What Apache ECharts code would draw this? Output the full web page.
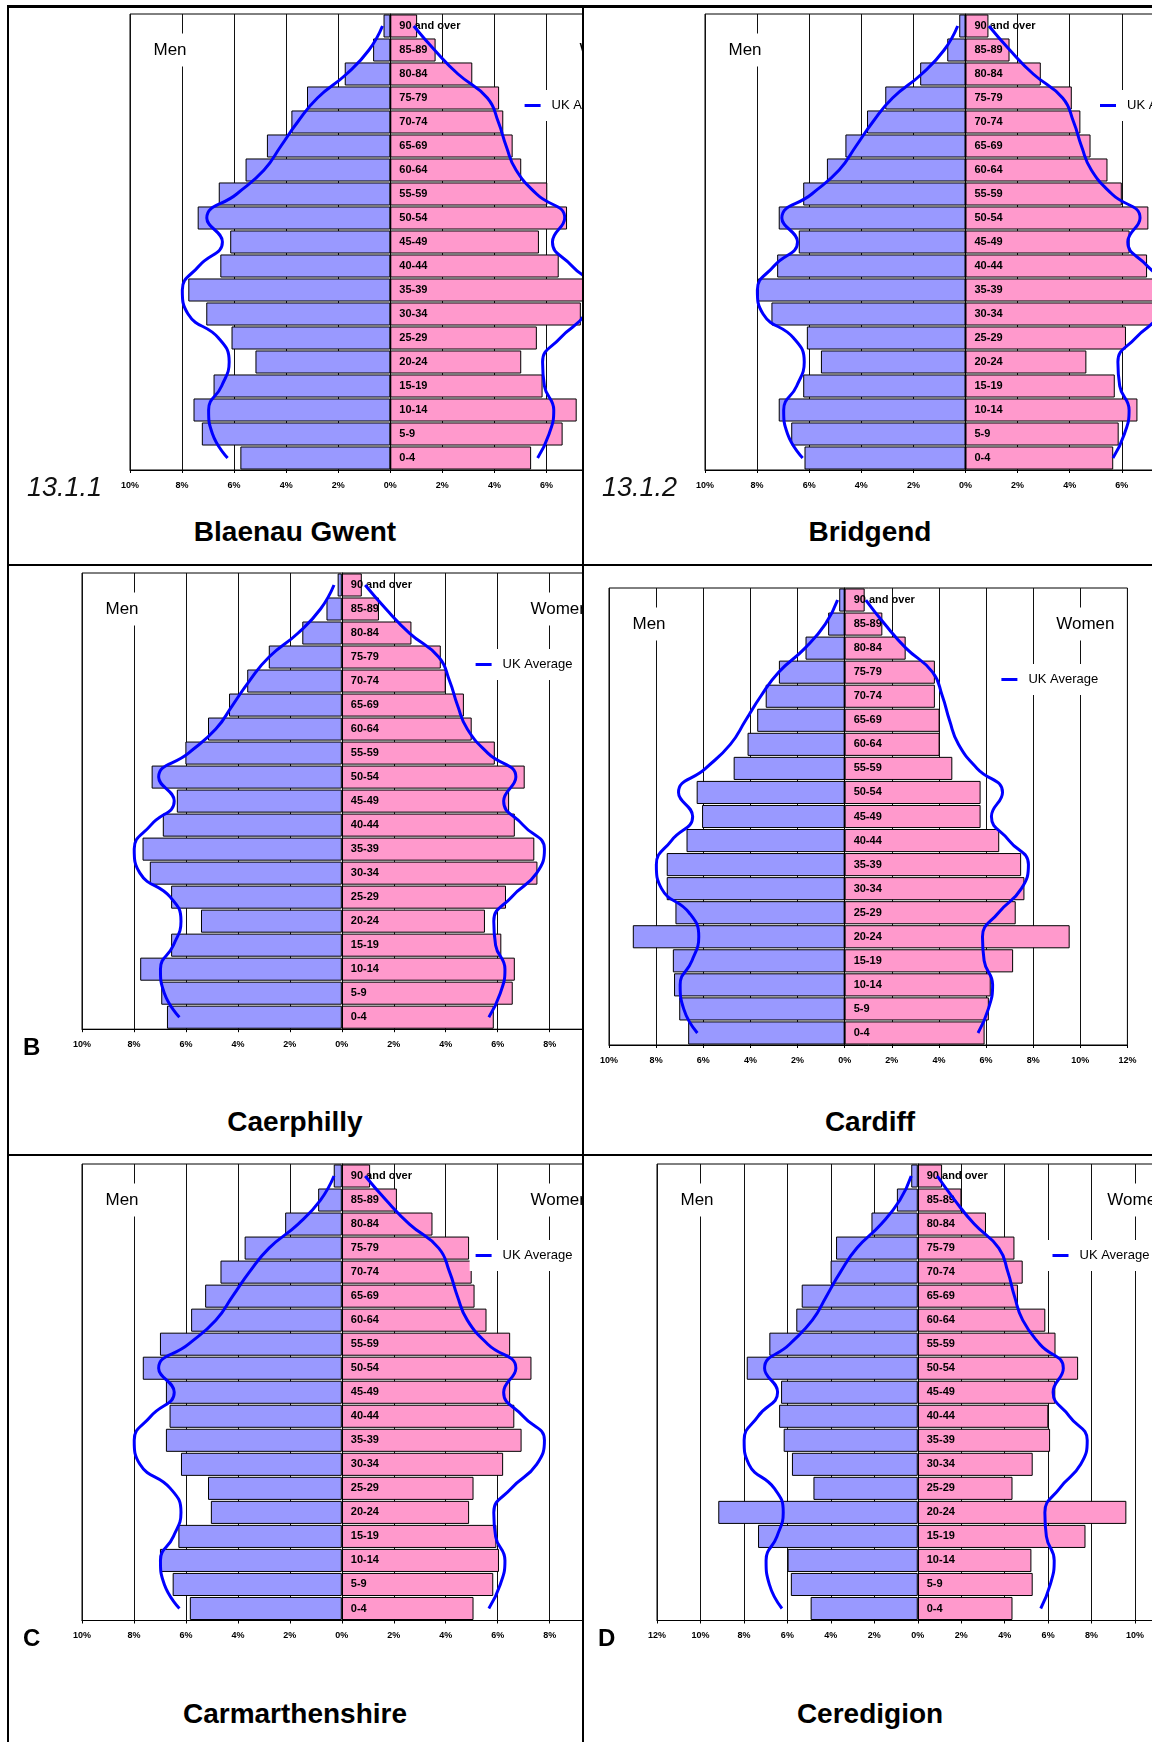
<!DOCTYPE html>
<html><head><meta charset="utf-8">
<script src="https://cdn.jsdelivr.net/npm/echarts@6/dist/echarts.min.js"></script>
<style>
html,body{margin:0;padding:0;background:#fff;width:1152px;height:1742px;overflow:hidden;}
#page{position:relative;width:1152px;height:1742px;overflow:hidden;font-family:"Liberation Sans",Arial,sans-serif;}
.cell{position:absolute;overflow:hidden;}
.chart{position:absolute;}
.rule{position:absolute;background:#000;}
.title{position:absolute;font-weight:bold;font-size:28px;line-height:1;transform:translate(-50%,-50%);white-space:nowrap;color:#000;}
.tag{position:absolute;line-height:1;transform:translateY(-50%);white-space:nowrap;color:#111;}
</style></head><body><div id="page"></div>
<script>
// ---------- data (ordered from youngest at bottom to oldest at top) ----------
const ageGroups = ['0-4','5-9','10-14','15-19','20-24','25-29','30-34','35-39','40-44','45-49','50-54','55-59','60-64','65-69','70-74','75-79','80-84','85-89','90 and over'];

const ukAverageMen   = [6.25, 6.83, 6.98, 6.48, 6.19, 6.6, 7.77, 7.99, 7.35, 6.45, 7.05, 5.9, 4.85, 4.2, 3.56, 2.8, 1.68, 0.82, 0.3];
const ukAverageWomen = [5.66, 6.1, 6.28, 5.92, 5.85, 6.53, 7.5, 7.8, 6.98, 6.23, 6.7, 5.62, 4.83, 4.45, 4.15, 3.73, 2.6, 1.7, 0.9];

const blaenauGwentMen   = [5.76, 7.24, 7.56, 6.79, 5.18, 6.1, 7.07, 7.76, 6.53, 6.15, 7.4, 6.59, 5.56, 4.74, 3.8, 3.2, 1.75, 0.66, 0.26];
const blaenauGwentWomen = [5.41, 6.62, 7.16, 5.85, 5.03, 5.63, 7.32, 7.9, 6.47, 5.71, 6.79, 6.03, 5.03, 4.7, 4.34, 4.18, 3.15, 1.74, 1.03];

const bridgendMen   = [6.18, 6.69, 7.17, 6.23, 5.55, 6.09, 7.45, 7.97, 7.23, 6.4, 7.17, 6.23, 5.32, 4.61, 3.78, 3.08, 1.74, 0.7, 0.24];
const bridgendWomen = [5.67, 5.88, 6.6, 5.73, 4.64, 6.16, 7.5, 7.8, 6.97, 6.3, 7.02, 6.0, 5.45, 4.8, 4.41, 4.08, 2.89, 1.69, 0.88];

const caerphillyMen   = [6.73, 6.95, 7.76, 6.57, 5.42, 6.57, 7.39, 7.67, 6.89, 6.35, 7.32, 6.02, 5.15, 4.34, 3.64, 2.81, 1.52, 0.59, 0.16];
const caerphillyWomen = [5.85, 6.58, 6.66, 6.14, 5.51, 6.32, 7.53, 7.41, 6.66, 6.44, 7.04, 5.89, 5.0, 4.7, 4.0, 3.81, 2.68, 1.43, 0.77];

const cardiffMen   = [6.64, 7.02, 7.24, 7.29, 8.99, 7.18, 7.55, 7.55, 6.71, 6.05, 6.28, 4.71, 4.12, 3.71, 3.35, 2.79, 1.66, 0.7, 0.23];
const cardiffWomen = [5.94, 6.12, 6.2, 7.15, 9.55, 7.26, 7.63, 7.49, 6.56, 5.77, 5.77, 4.57, 4.03, 4.03, 3.83, 3.83, 2.59, 1.6, 0.85];

const carmarthenshireMen   = [5.85, 6.51, 7.0, 6.29, 5.04, 5.15, 6.19, 6.77, 6.63, 6.77, 7.66, 7.0, 5.8, 5.26, 4.67, 3.74, 2.18, 0.91, 0.31];
const carmarthenshireWomen = [5.07, 5.83, 6.05, 5.95, 4.9, 5.07, 6.21, 6.92, 6.64, 6.48, 7.3, 6.48, 5.57, 5.11, 5.0, 4.9, 3.49, 2.12, 1.09];

const ceredigionMen   = [4.93, 5.84, 5.99, 7.35, 9.18, 4.8, 5.79, 6.17, 6.38, 6.29, 7.87, 6.83, 5.59, 5.34, 4.01, 3.76, 2.13, 0.96, 0.3];
const ceredigionWomen = [4.36, 5.29, 5.23, 7.72, 9.6, 4.36, 5.29, 6.09, 6.01, 6.33, 7.38, 6.34, 5.87, 4.61, 4.83, 4.45, 3.14, 2.01, 1.12];

const titles = ['Blaenau Gwent','Bridgend','Caerphilly','Cardiff','Carmarthenshire','Ceredigion'];
const tags = ['13.1.1','13.1.2','B','','C','D'];
const axisRanges = [[-10,10],[-10,10],[-10,10],[-10,12],[-10,10],[-12,12]];
const menLabel = 'Men', womenLabel = 'Women', legendLabel = 'UK Average';

// ---------- layout (page pixel coordinates) ----------
const FONT = '"Liberation Sans", Arial, sans-serif';
const layout = [
  {cell:[9,8,573,556],    plot:[130,14,520.6,456],    title:[295,532],   tag:[27,487,'i']},
  {cell:[584,8,568,556],  plot:[705.1,14,521,456],    title:[870,532],   tag:[602,487,'i']},
  {cell:[9,566,573,588],  plot:[82,572.6,519.6,456.2],title:[295,1122],  tag:[23,1047,'b']},
  {cell:[584,566,568,588],plot:[609.2,588,518.4,457], title:[870,1122],  tag:null},
  {cell:[9,1156,573,586], plot:[82,1163.6,519.6,456.5],title:[295,1714],tag:[23,1638,'b']},
  {cell:[584,1156,568,586],plot:[656.6,1163.6,521.5,456.5],title:[870,1714],tag:[598,1638,'b']}
];
const seriesData = [
  [blaenauGwentMen, blaenauGwentWomen],
  [bridgendMen, bridgendWomen],
  [caerphillyMen, caerphillyWomen],
  [cardiffMen, cardiffWomen],
  [carmarthenshireMen, carmarthenshireWomen],
  [ceredigionMen, ceredigionWomen]
];

const page = document.getElementById('page');
function rule(x,y,w,h){const d=document.createElement('div');d.className='rule';Object.assign(d.style,{left:x+'px',top:y+'px',width:w+'px',height:h+'px'});page.appendChild(d);}
rule(7,5,1145,2.5);      // top
rule(7,5,2,1737);        // left
rule(582,5,2,1737);      // middle
rule(7,563.5,1145,2.5);  // row 1 bottom
rule(7,1153.5,1145,2.5); // row 2 bottom

const GL = 60, GT = 20;
layout.forEach((L, i) => {
  const cell = document.createElement('div');
  cell.className = 'cell';
  Object.assign(cell.style,{left:L.cell[0]+'px',top:L.cell[1]+'px',width:L.cell[2]+'px',height:L.cell[3]+'px'});
  page.appendChild(cell);
  const [px,py,pw,ph] = L.plot;
  const div = document.createElement('div');
  div.className = 'chart';
  const cw = pw + 130, ch = ph + 50;
  Object.assign(div.style,{left:(px-GL-L.cell[0])+'px',top:(py-GT-L.cell[1])+'px',width:cw+'px',height:ch+'px'});
  cell.appendChild(div);

  const [men, women] = seriesData[i];
  const [mn, mx] = axisRanges[i];
  const zeroOffset = -pw * (-mn) / (mx - mn);
  const chart = echarts.init(div, null, {renderer:'canvas'});
  const padL = 6, padT = 9;
  chart.setOption({
    animation:false,
    textStyle:{fontFamily:FONT},
    grid:{left:GL, top:GT, width:pw, height:ph, show:true, borderColor:'#000', borderWidth:1, backgroundColor:'#fff'},
    xAxis:{type:'value', min:mn, max:mx, interval:2,
      axisLine:{show:true, onZero:false, lineStyle:{color:'#000', width:1}},
      axisTick:{show:true, length:3, lineStyle:{color:'#000'}},
      axisLabel:{formatter:v=>Math.abs(v)+'%', fontSize:9, fontWeight:'bold', color:'#000', margin:11, fontFamily:FONT},
      splitLine:{show:true, lineStyle:{color:'#111', width:1}}},
    yAxis:{type:'category', data:ageGroups, z:10, position:'left', offset:zeroOffset,
      axisLine:{show:true, onZero:false, lineStyle:{color:'#000', width:1}},
      axisTick:{show:false},
      axisLabel:{inside:true, margin:9, fontSize:11, fontWeight:'bold', color:'#000', fontFamily:FONT},
      splitLine:{show:false}},
    legend:{data:[legendLabel], selectedMode:false, icon:'rect', itemWidth:16, itemHeight:3,
      left:GL+pw-126-padL, top:GT+93-8-padT, padding:[padT,6,padT,padL], backgroundColor:'#fff',
      textStyle:{fontSize:13, color:'#000', fontFamily:FONT, padding:[0,0,0,6]}},
    graphic:[
      {type:'text', z:100, x:GL+40, y:GT+36, style:{text:menLabel, font:'17px '+FONT, fill:'#000', align:'center', verticalAlign:'middle', textAlign:'center', textVerticalAlign:'middle', backgroundColor:'#fff', padding:[8,3]}},
      {type:'text', z:100, x:GL+pw-42, y:GT+36, style:{text:womenLabel, font:'17px '+FONT, fill:'#000', align:'center', verticalAlign:'middle', textAlign:'center', textVerticalAlign:'middle', backgroundColor:'#fff', padding:[8,3]}}
    ],
    series:[
      {name:'Men', type:'bar', stack:'pop', data:men.map(v=>-v), barCategoryGap:'4%', z:2,
        itemStyle:{color:'#9999ff', borderColor:'#000', borderWidth:1}},
      {name:'Women', type:'bar', stack:'pop', data:women, z:2,
        itemStyle:{color:'#ff99cc', borderColor:'#000', borderWidth:1}},
      {name:legendLabel, type:'line', data:ukAverageMen.map(v=>-v), smooth:true, symbol:'none', z:12,
        itemStyle:{color:'#0000ff'}, lineStyle:{color:'#0000ff', width:3}},
      {name:legendLabel, type:'line', data:ukAverageWomen, smooth:true, symbol:'none', z:12,
        itemStyle:{color:'#0000ff'}, lineStyle:{color:'#0000ff', width:3}}
    ]
  });

  const t = document.createElement('div');
  t.className = 'title';
  t.textContent = titles[i];
  Object.assign(t.style,{left:L.title[0]+'px',top:L.title[1]+'px'});
  page.appendChild(t);
  if (L.tag && tags[i]) {
    const g = document.createElement('div');
    g.className = 'tag';
    g.textContent = tags[i];
    if (L.tag[2]==='i') { g.style.fontStyle='italic'; g.style.fontSize='27px'; }
    else { g.style.fontWeight='bold'; g.style.fontSize='24px'; g.style.color='#000'; }
    Object.assign(g.style,{left:L.tag[0]+'px',top:L.tag[1]+'px'});
    page.appendChild(g);
  }
});
</script>
</body></html>
